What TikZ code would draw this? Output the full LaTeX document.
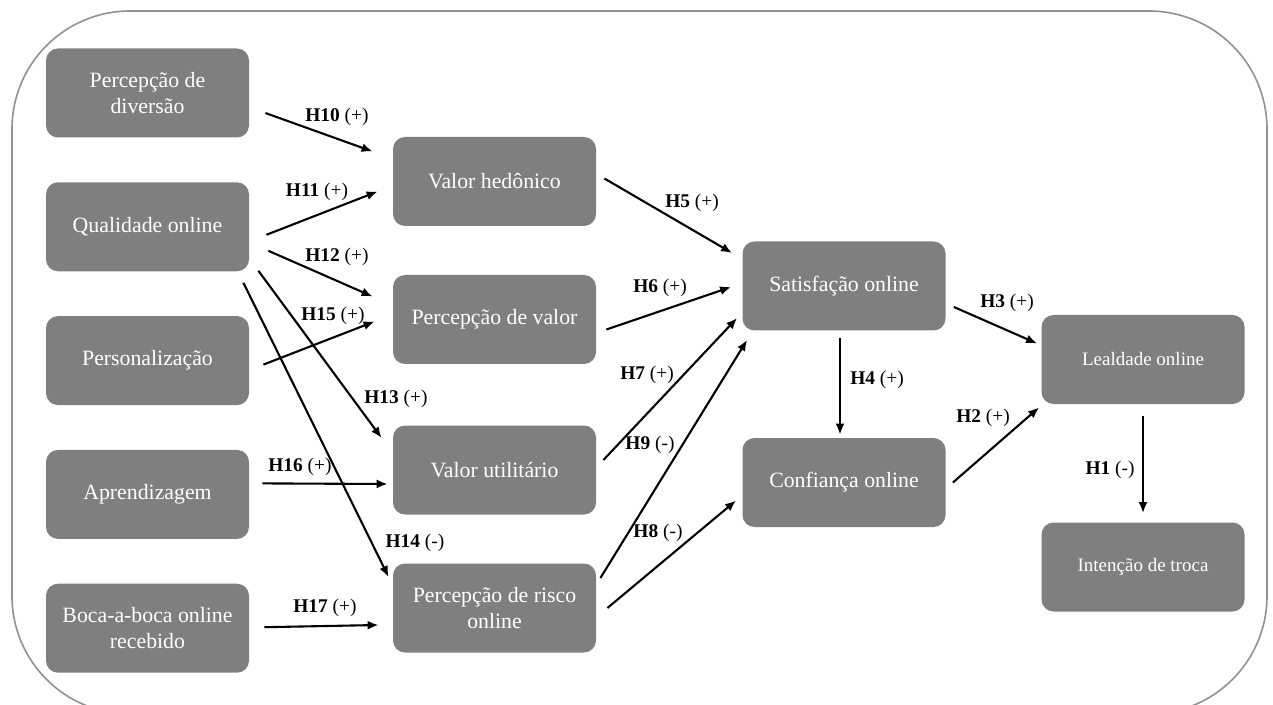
\documentclass[tikz,border=0pt]{standalone}
\usepackage{fontspec}
\setmainfont{Liberation Serif}
\usetikzlibrary{arrows.meta, positioning, calc}
\definecolor{boxgray}{RGB}{127,127,127}
\definecolor{framegray}{RGB}{145,145,145}

\begin{document}
\begin{tikzpicture}[x=0.5pt, y=-0.5pt, node distance=22pt,
        box/.style={fill=boxgray, rounded corners=6pt, minimum width=101.5pt,
                    minimum height=44.5pt, align=center, text=white,
                    font=\fontsize{10.9}{13}\selectfont},
        smallbox/.style={box, font=\fontsize{9.5}{11}\selectfont},
        lbl/.style={font=\fontsize{9.7}{11}\selectfont, inner sep=1pt},
        arr/.style={-{Latex[length=5.5pt,width=4.5pt]}, line width=1.05pt}]
      \useasboundingbox (0,0) rectangle (1273,705);
      \draw[framegray, line width=0.8pt, rounded corners=59pt] (12,11) rectangle (1267,714);
      % antecedentes
      \node[box] (div) at (147.5,93) {Percepção de\\diversão};
      \node[box, below=of div] (qual) {Qualidade online};
      \node[box, below=of qual] (pers) {Personalização};
      \node[box, below=of pers] (apr) {Aprendizagem};
      \node[box, below=of apr] (boca) {Boca-a-boca online\\recebido};
      % valores e risco
      \node[box] (hed) at (494.5,181.5) {Valor hedônico};
      \node[box] (pval) at (494.5,319.5) {Percepção de valor};
      \node[box] (util) at (494.5,470) {Valor utilitário};
      \node[box] (risk) at (494.5,608) {Percepção de risco\\online};
      % resultados
      \node[box] (sat) at (844,286) {Satisfação online};
      \node[box] (conf) at (844,482.5) {Confiança online};
      \node[smallbox] (leal) at (1143,359.5) {Lealdade online};
      \node[smallbox] (troca) at (1143,567) {Intenção de troca};
      % hipoteses
      \draw[arr] ($(div.east)+(16,20)$) -- ($(hed.west)+(-20,-30)$);
      \draw[arr] ($(qual.east)+(17,8)$) -- ($(hed.west)+(-15,10)$);
      \draw[arr] ($(qual.east)+(19,24)$) -- ($(pval.west)+(-20,-23)$);
      \draw[arr] ($(qual.east)+(9,44)$) -- ($(util.west)+(-11,-32)$);
      \draw[arr] ($(qual.east)+(-6,56)$) -- ($(risk.west)+(-4,-31)$);
      \draw[arr] ($(pers.east)+(14,4)$) -- ($(pval.west)+(-18,2)$);
      \draw[arr] ($(apr.east)+(13,-11)$) -- ($(util.west)+(-5,14)$);
      \draw[arr] ($(boca.east)+(15,-1)$) -- ($(risk.west)+(-14,17)$);
      \draw[arr] ($(hed.east)+(8,-3)$) -- ($(sat.west)+(-10,-33)$);
      \draw[arr] ($(pval.east)+(10,10)$) -- ($(sat.west)+(-11,1)$);
      \draw[arr] ($(util.east)+(7,-10)$) -- ($(sat.west)+(-5,32)$);
      \draw[arr] ($(risk.east)+(4,-30)$) -- ($(sat.south west)+(5,9)$);
      \draw[arr] ($(risk.east)+(11,0)$) -- ($(conf.west)+(-6,18)$);
      \draw[arr] ($(sat.south)+(-4,7)$) -- ($(conf.north)+(-4,-3)$);
      \draw[arr] ($(sat.east)+(8,21)$) -- ($(leal.west)+(-4,-16)$);
      \draw[arr] ($(conf.east)+(7,0)$) -- ($(leal.south west)+(-2,3)$);
      \draw[arr] ($(leal.south)+(0,12)$) -- ($(troca.north)+(0,-9)$);
      % rotulos
      \node[lbl] (l10) at (337,117) {\textbf{H10} (+)};
      \node[lbl] (l11) at (317,192) {\textbf{H11} (+)};
      \node[lbl] (l12) at (337,257) {\textbf{H12} (+)};
      \node[lbl] (l15) at (333,316) {\textbf{H15} (+)};
      \node[lbl] (l13) at (396,399) {\textbf{H13} (+)};
      \node[lbl] (l16) at (300,467) {\textbf{H16} (+)};
      \node[lbl] (l14) at (415,543) {\textbf{H14} (-)};
      \node[lbl] (l17) at (325,608) {\textbf{H17} (+)};
      \node[lbl] (l5) at (692,203) {\textbf{H5} (+)};
      \node[lbl] (l6) at (660,288) {\textbf{H6} (+)};
      \node[lbl] (l7) at (647,375) {\textbf{H7} (+)};
      \node[lbl] (l9) at (650,445) {\textbf{H9} (-)};
      \node[lbl] (l8) at (658,533) {\textbf{H8} (-)};
      \node[lbl] (l4) at (877,380) {\textbf{H4} (+)};
      \node[lbl] (l3) at (1007,303) {\textbf{H3} (+)};
      \node[lbl] (l2) at (983,418) {\textbf{H2} (+)};
      \node[lbl] (l1) at (1110,470) {\textbf{H1} (-)};
    \end{tikzpicture}
\end{document}
